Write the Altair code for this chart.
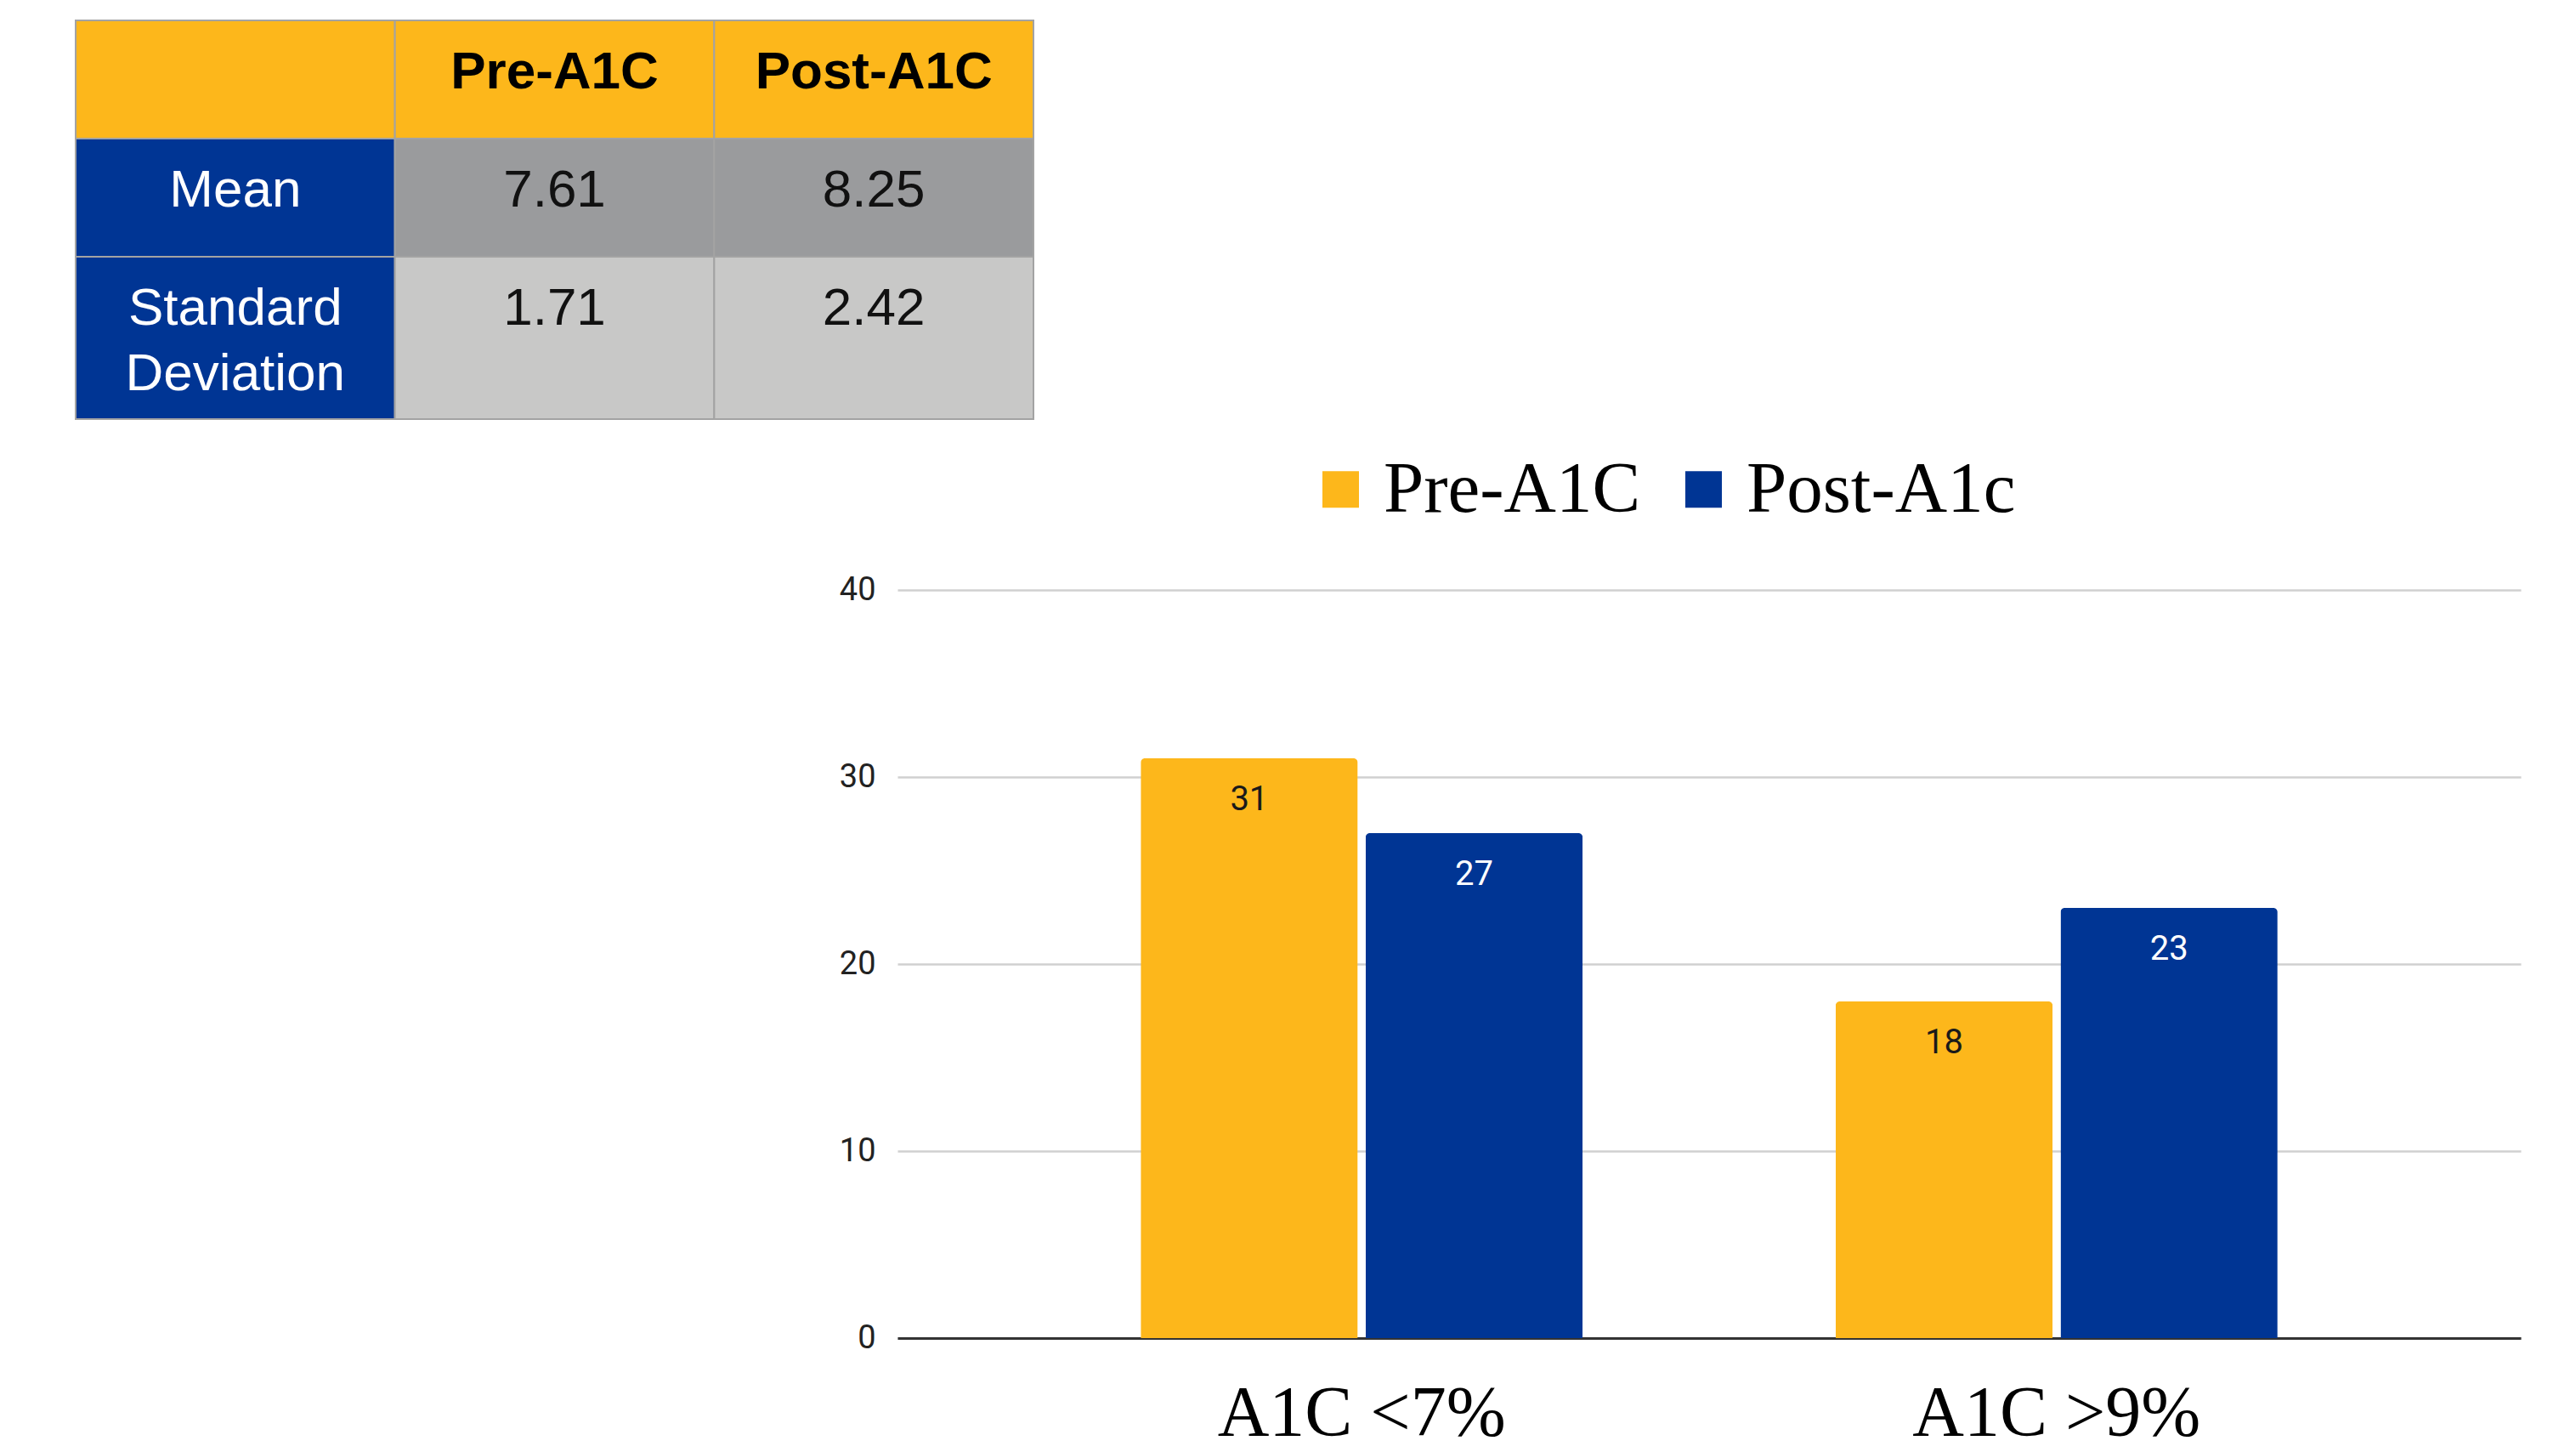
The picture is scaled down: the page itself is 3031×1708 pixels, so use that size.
import altair as alt
import pandas as pd

# ---- summary statistics table ----
stat_columns = ["Pre-A1C", "Post-A1C"]
stat_rows = ["Mean", "Standard\nDeviation"]
pre_stats = ["7.61", "1.71"]
post_stats = ["8.25", "2.42"]

# ---- bar chart: number of patients per A1C band ----
groups = ["A1C <7%", "A1C >9%"]
series = ["Pre-A1C", "Post-A1c"]
pre_counts = [31, 18]
post_counts = [27, 23]
y_ticks = [0, 10, 20, 30, 40]

YELLOW = "#FDB71B"
BLUE = "#003594"
MEAN_GRAY = "#9A9B9D"
SD_GRAY = "#C8C8C7"
BORDER = "#A3A3A3"

# ---- table cells ----
ROW_H = 139          # height of a single-line row
EXTRA_LINE_H = 52    # added for every further text line
header = [""] + stat_columns
body = [[lab, a, b] for lab, a, b in zip(stat_rows, pre_stats, post_stats)]
all_rows = [header] + body
row_heights = [ROW_H + EXTRA_LINE_H * max(c.count("\n") for c in r) for r in all_rows]
tops = [sum(row_heights[:i]) for i in range(len(all_rows))]
table_h = sum(row_heights)

cells = []
for ri, row in enumerate(all_rows):
    for ci, txt in enumerate(row):
        if ri == 0:
            fill, kind = YELLOW, "head"
        elif ci == 0:
            fill, kind = BLUE, "rowhead"
        else:
            fill, kind = (MEAN_GRAY if ri == 1 else SD_GRAY), "value"
        cells.append(dict(c0=ci, c1=ci + 1, cm=ci + 0.5,
                          r0=tops[ri], r1=tops[ri] + row_heights[ri],
                          text=txt, fill=fill, kind=kind))
cells = pd.DataFrame(cells)

tx = alt.Scale(domain=[0, len(header)], range=[-967, 160], nice=False, zero=False)
ty = alt.Scale(domain=[0, table_h], range=[-670, -670 + table_h], nice=False, zero=False)

cell_base = alt.Chart(cells)
cell_rects = cell_base.mark_rect(stroke=BORDER, strokeWidth=2).encode(
    x=alt.X("c0:Q", scale=tx, axis=None),
    x2="c1",
    y=alt.Y("r0:Q", scale=ty, axis=None),
    y2="r1",
    color=alt.Color("fill:N", scale=None),
)


def cell_text(kind, color, weight):
    return cell_base.transform_filter(alt.datum.kind == kind).mark_text(
        font="Liberation Sans", fontSize=62, fontWeight=weight, color=color,
        align="center", baseline="alphabetic", dy=80,
        lineBreak="\n", lineHeight=77,
    ).encode(
        x=alt.X("cm:Q", scale=tx, axis=None),
        y=alt.Y("r0:Q", scale=ty, axis=None),
        text="text:N",
    )


table = alt.layer(
    cell_rects,
    cell_text("head", "black", "bold"),
    cell_text("rowhead", "white", "normal"),
    cell_text("value", "#111111", "normal"),
)

# ---- grouped bars ----
bars_df = pd.DataFrame(
    [{"group": g, "series": series[0], "value": v} for g, v in zip(groups, pre_counts)]
    + [{"group": g, "series": series[1], "value": v} for g, v in zip(groups, post_counts)]
)

x_enc = alt.X(
    "group:N", sort=groups, title=None,
    scale=alt.Scale(paddingInner=0.364, paddingOuter=0.35),
    axis=alt.Axis(orient="bottom", labelAngle=0, labelFont="Liberation Serif",
                  labelFontSize=84, labelColor="black", labelPadding=114,
                  labelBaseline="alphabetic", labelLimit=0, ticks=False, tickSize=0,
                  domain=True, domainColor="#333333", domainWidth=3, grid=False),
)
xo_enc = alt.XOffset("series:N", sort=series,
                     scale=alt.Scale(paddingInner=0.035, paddingOuter=0))
y_enc = alt.Y(
    "value:Q", title=None,
    scale=alt.Scale(domain=[0, 40], nice=False),
    axis=alt.Axis(orient="left", values=y_ticks, labelFont="Roboto", labelFontSize=38,
                  labelColor="#222222", labelPadding=26, ticks=False, tickSize=0,
                  domain=False, grid=True, gridColor="#D0D0D0", gridWidth=2.5),
)

bar_base = alt.Chart(bars_df)
bar_marks = bar_base.mark_bar(cornerRadiusTopLeft=5, cornerRadiusTopRight=5).encode(
    x=x_enc,
    xOffset=xo_enc,
    y=y_enc,
    color=alt.Color(
        "series:N", sort=series,
        scale=alt.Scale(domain=series, range=[YELLOW, BLUE]),
        legend=alt.Legend(title=None, orient="none", legendX=479, legendY=-161,
                          direction="horizontal", symbolType="square", symbolSize=1849,
                          symbolStrokeWidth=0, symbolOpacity=1,
                          labelFont="Liberation Serif", labelFontSize=85,
                          labelColor="black", labelOffset=8, columnPadding=31,
                          padding=0, labelLimit=0),
    ),
)
bar_labels = bar_base.mark_text(
    font="Roboto", fontSize=40, baseline="alphabetic", dy=61, align="center"
).encode(
    x=x_enc,
    xOffset=xo_enc,
    y=y_enc,
    text="value:Q",
    color=alt.condition(alt.datum.series == series[0], alt.value("#1A1A1A"), alt.value("white")),
)
bars = alt.layer(bar_marks, bar_labels)

chart = (
    alt.layer(bars, table)
    .resolve_scale(x="independent", y="independent", color="independent")
    .properties(width=1910, height=880, background="white",
                padding={"left": 88, "top": 23, "right": 65, "bottom": 0})
    .configure_view(stroke=None)
)

chart.save("out.html", embed_options={"renderer": "svg", "actions": False})
